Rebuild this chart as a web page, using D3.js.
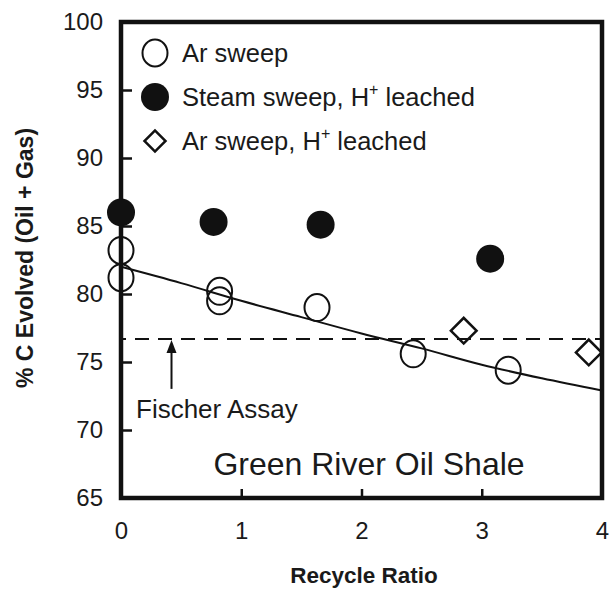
<!DOCTYPE html>
<html>
<head>
<meta charset="utf-8">
<script src="https://cdn.jsdelivr.net/npm/d3@7"></script>
<style>
body { margin: 0; background: #fff; }
text { font-family: "Liberation Sans", Arial, sans-serif; fill: #1a1a1a; }
</style>
</head>
<body>
<script>
// values
var arX = [0, 0, 0.82, 0.82, 1.63, 2.43, 3.22];
var arY = [83.2, 81.2, 80.2, 79.5, 79.0, 75.6, 74.4];
var steamX = [0, 0.77, 1.66, 3.07];
var steamY = [86.0, 85.3, 85.1, 82.6];
var leachX = [2.85, 3.89];
var leachY = [77.3, 75.7];
var fitX = [0, 0.5, 1, 1.5, 2, 2.5, 3, 3.5, 4];
var fitY = [82.0, 80.8, 79.5, 78.3, 77.1, 76.0, 74.8, 73.8, 72.9];
var fischerY = 76.7;
var fischerArrowX = 0.42;
var xTicks = [0, 1, 2, 3, 4];
var yTicks = [65, 70, 75, 80, 85, 90, 95, 100];
var legendNames = ["Ar sweep", "Steam sweep, H", "Ar sweep, H"];
var legendSup = ["", "+", "+"];
var legendTail = ["", " leached", " leached"];

var W = 610, H = 595;
var mLeft = 121, mRight = 602, mTop = 22, mBottom = 498;

var svg = d3.select("body").append("svg")
	.attr("width", W)
	.attr("height", H);

var x = d3.scaleLinear().domain([0, 4]).range([mLeft, mRight]);
var y = d3.scaleLinear().domain([65, 100]).range([mBottom, mTop]);

// axes, ticks pointing inward
var yAxis = svg.append("g")
	.attr("transform", "translate(" + mLeft + ",0)")
	.call(d3.axisLeft(y).tickValues(yTicks).tickFormat(d3.format("d"))
		.tickSizeInner(-11).tickSizeOuter(0).tickPadding(18));
var xAxis = svg.append("g")
	.attr("transform", "translate(0," + mBottom + ")")
	.call(d3.axisBottom(x).tickValues(xTicks).tickFormat(d3.format("d"))
		.tickSizeInner(-9).tickSizeOuter(0).tickPadding(24));

[xAxis, yAxis].forEach(function(g) {
	g.select(".domain").remove();
	g.selectAll(".tick line").attr("stroke", "#111").attr("stroke-width", 2.5);
	g.selectAll(".tick text").style("font-size", "24px").attr("fill", "#1a1a1a");
});

// frame
svg.append("rect")
	.attr("x", mLeft).attr("y", mTop)
	.attr("width", mRight - mLeft).attr("height", mBottom - mTop)
	.attr("fill", "none")
	.attr("stroke", "#111")
	.attr("stroke-width", 4.5);

// Fischer assay level
svg.append("line")
	.attr("x1", x(0)).attr("x2", x(4))
	.attr("y1", y(fischerY)).attr("y2", y(fischerY))
	.attr("stroke", "#111")
	.attr("stroke-width", 2)
	.attr("stroke-dasharray", "14,9")
	.attr("stroke-dashoffset", -14);

// fit line
var fit = fitX.map(function(d, i) { return [d, fitY[i]]; });
svg.append("path")
	.datum(fit)
	.attr("fill", "none")
	.attr("stroke", "#111")
	.attr("stroke-width", 2)
	.attr("d", d3.line()
		.x(function(d) { return x(d[0]); })
		.y(function(d) { return y(d[1]); })
		.curve(d3.curveMonotoneX));

// arrow + label
var ax = x(fischerArrowX), ay = y(fischerY);
svg.append("line")
	.attr("x1", ax).attr("x2", ax)
	.attr("y1", ay + 12).attr("y2", ay + 50)
	.attr("stroke", "#111")
	.attr("stroke-width", 2);
svg.append("path")
	.attr("d", "M" + ax + "," + (ay + 1) + "L" + (ax - 5) + "," + (ay + 14) + "L" + (ax + 5) + "," + (ay + 14) + "Z")
	.attr("fill", "#111");
svg.append("text")
	.attr("x", 136).attr("y", ay + 79)
	.style("font-size", "26px")
	.text("Fischer Assay");

svg.append("text")
	.attr("x", 369).attr("y", 475)
	.attr("text-anchor", "middle")
	.style("font-size", "32px")
	.text("Green River Oil Shale");

// data marks
var ar = arX.map(function(d, i) { return [d, arY[i]]; });
var steam = steamX.map(function(d, i) { return [d, steamY[i]]; });
var leach = leachX.map(function(d, i) { return [d, leachY[i]]; });

svg.selectAll(".steam").data(steam).enter().append("circle")
	.attr("class", "steam")
	.attr("cx", function(d) { return x(d[0]); })
	.attr("cy", function(d) { return y(d[1]); })
	.attr("r", 14)
	.attr("fill", "#111");

svg.selectAll(".ar").data(ar).enter().append("ellipse")
	.attr("class", "ar")
	.attr("cx", function(d) { return x(d[0]); })
	.attr("cy", function(d) { return y(d[1]); })
	.attr("rx", 12.5).attr("ry", 13.5)
	.attr("fill", "none")
	.attr("stroke", "#111")
	.attr("stroke-width", 2);

var diamond = d3.symbol().type(d3.symbolSquare).size(330);
svg.selectAll(".leach").data(leach).enter().append("path")
	.attr("class", "leach")
	.attr("d", diamond)
	.attr("transform", function(d) { return "translate(" + x(d[0]) + "," + y(d[1]) + ") rotate(45)"; })
	.attr("fill", "none")
	.attr("stroke", "#111")
	.attr("stroke-width", 2.5);

// legend
var legend = svg.append("g");
legendNames.forEach(function(name, i) {
	var ly = 53 + i * 44;
	if (i === 0) {
		legend.append("ellipse").attr("cx", 155).attr("cy", ly).attr("rx", 12.5).attr("ry", 13.5)
			.attr("fill", "none").attr("stroke", "#111").attr("stroke-width", 2);
	} else if (i === 1) {
		legend.append("circle").attr("cx", 155).attr("cy", ly).attr("r", 14).attr("fill", "#111");
	} else {
		legend.append("path").attr("d", d3.symbol().type(d3.symbolSquare).size(220))
			.attr("transform", "translate(155," + ly + ") rotate(45)")
			.attr("fill", "none").attr("stroke", "#111").attr("stroke-width", 2.5);
	}
	var t = legend.append("text")
		.attr("x", 182).attr("y", ly + 9)
		.style("font-size", "25.5px");
	t.append("tspan").text(name);
	if (legendSup[i]) {
		t.append("tspan").attr("dy", -11).style("font-size", "16px").text(legendSup[i]);
		t.append("tspan").attr("dy", 11).text(legendTail[i]);
	}
});

// axis titles
svg.append("text")
	.attr("x", 364).attr("y", 583)
	.attr("text-anchor", "middle")
	.style("font-size", "22.5px")
	.style("font-weight", "bold")
	.text("Recycle Ratio");

svg.append("text")
	.attr("transform", "translate(33,258) rotate(-90)")
	.attr("text-anchor", "middle")
	.style("font-size", "23px")
	.style("font-weight", "bold")
	.text("% C Evolved (Oil + Gas)");
</script>
</body>
</html>
